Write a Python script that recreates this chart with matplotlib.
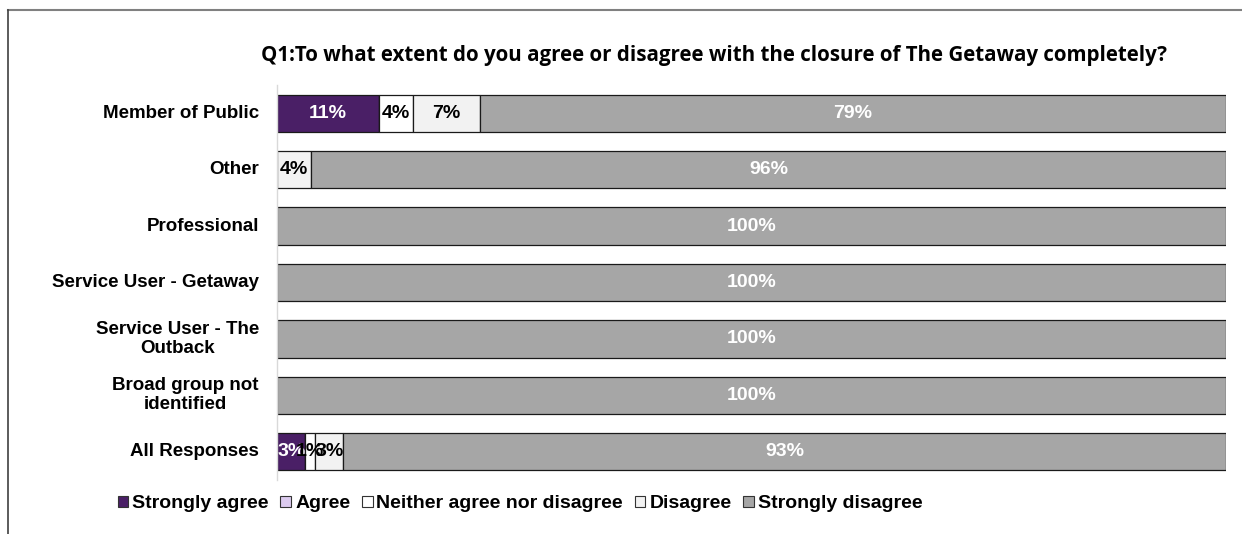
import matplotlib
matplotlib.use('Agg')
import matplotlib.pyplot as plt
import matplotlib.transforms as mtransforms
from matplotlib.patches import Patch
from matplotlib.lines import Line2D

categories = ["Member of Public", "Other", "Professional", "Service User - Getaway",
              "Service User - The\nOutback", "Broad group not\nidentified", "All Responses"]
series = ["Strongly agree", "Agree", "Neither agree nor disagree", "Disagree", "Strongly disagree"]
strongly_agree = [10.7, 0, 0, 0, 0, 0, 3.0]
agree = [0, 0, 0, 0, 0, 0, 0]
neither = [3.6, 0, 0, 0, 0, 0, 1.0]
disagree = [7.1, 3.6, 0, 0, 0, 0, 3.0]
strongly_disagree = [78.6, 96.4, 100, 100, 100, 100, 93.0]

colors = ["#4a1f66", "#dccbef", "#ffffff", "#f2f2f2", "#a6a6a6"]
text_colors = ["white", "black", "black", "black", "white"]

W, H = 1242, 534
fig = plt.figure(figsize=(W / 100, H / 100), dpi=100)
ax = fig.add_axes([277 / W, 1 - 480 / H, (1226 - 277) / W, 395 / H])

values = [strongly_agree, agree, neither, disagree, strongly_disagree]
ypos = list(range(len(categories)))
left = [0] * len(categories)
for vals, col, tcol in zip(values, colors, text_colors):
    ax.barh(ypos, vals, left=left, height=0.66, color=col, edgecolor="#1a1a1a", linewidth=0.9)
    for y, v, l in zip(ypos, vals, left):
        if v > 0:
            ax.text(l + v / 2, y, f"{round(v)}%", ha="center", va="center", color=tcol,
                    fontsize=14, fontweight="bold", family="Liberation Sans")
    left = [a + b for a, b in zip(left, vals)]

ax.set_xlim(0, 100)
ax.set_ylim(len(categories) - 0.5, -0.5)
ax.set_yticks(ypos)
ax.set_yticklabels([])
ax.tick_params(axis="y", length=0)
ax.set_xticks([])
for s in ["top", "right", "bottom"]:
    ax.spines[s].set_visible(False)
ax.spines["left"].set_color("#d9d9d9")
ax.spines["left"].set_linewidth(1.0)

# category labels: block right-aligned at x=259px, lines centred within the block
trans = mtransforms.blended_transform_factory(fig.transFigure, ax.transData)
renderer = fig.canvas.get_renderer()
for y, cat in zip(ypos, categories):
    t = ax.text(259 / W, y, cat, transform=trans, ha="center", va="center",
                linespacing=1.15, fontsize=13.5, fontweight="bold", family="Liberation Sans")
    w = t.get_window_extent(renderer=renderer).width
    t.set_x((259 - w / 2) / W)

fig.text(714 / W, 1 - 55 / H,
         "Q1:To what extent do you agree or disagree with the closure of The Getaway completely?",
         ha="center", va="center", fontsize=14.8, fontweight="bold",
         family=["Open Sans", "DejaVu Sans"])

handles = [Patch(facecolor=c, edgecolor="#333333", linewidth=0.8) for c in colors]
fig.legend(handles, series, loc="center", bbox_to_anchor=(520 / W, 1 - 504 / H),
           ncol=5, frameon=False, handlelength=0.55, handleheight=0.55, handletextpad=0.2,
           columnspacing=0.6, prop={"family": "Liberation Sans", "weight": "bold", "size": 14})

# outer chart border (top and left edges visible)
fig.add_artist(Line2D([7.5 / W, 1], [1 - 9.5 / H, 1 - 9.5 / H], color="#808080", lw=1.5))
fig.add_artist(Line2D([7.5 / W, 7.5 / W], [0, 1 - 9.5 / H], color="#404040", lw=1.2))

fig.savefig("out.png", dpi=100)
